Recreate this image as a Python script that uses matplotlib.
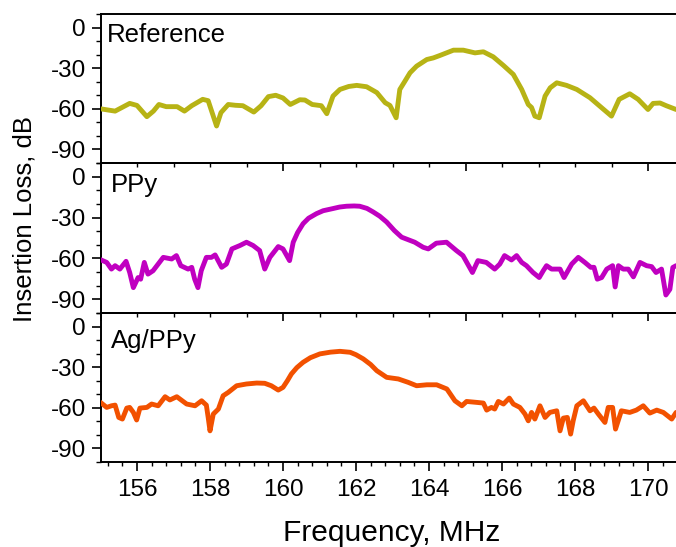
import numpy as np
import matplotlib.pyplot as plt
from matplotlib.ticker import MultipleLocator

plt.rcParams["font.family"] = ["Liberation Sans", "DejaVu Sans"]
plt.rcParams["axes.unicode_minus"] = False

# --- measured traces (frequency in MHz, insertion loss in dB) ---
ref_freq = [155.0, 155.4, 155.8, 156.0, 156.27, 156.45, 156.6, 156.8, 157.1, 157.3,
            157.5, 157.8, 157.95, 158.18, 158.3, 158.5, 158.7, 158.9, 159.2, 159.4,
            159.6, 159.8, 160.0, 160.2, 160.46, 160.6, 160.8, 161.05, 161.2, 161.37,
            161.56, 161.8, 162.02, 162.29, 162.57, 162.8, 162.93, 163.1, 163.2, 163.34,
            163.48, 163.66, 163.94, 164.12, 164.3, 164.48, 164.67, 164.94, 165.26, 165.49,
            165.76, 166.04, 166.31, 166.54, 166.72, 166.81, 166.9, 167.02, 167.18, 167.32,
            167.5, 167.77, 168.05, 168.41, 168.73, 169.0, 169.21, 169.5, 169.73, 170.0,
            170.14, 170.33, 170.5, 170.77]
ref_loss = [-60.0, -61.7, -56.0, -57.5, -65.8, -61.7, -56.8, -58.4, -58.4, -61.7,
            -57.7, -53.0, -54.0, -72.7, -62.8, -56.8, -57.4, -57.7, -62.4, -57.7,
            -51.0, -50.0, -52.0, -56.8, -53.3, -53.5, -56.8, -57.7, -63.6, -50.6,
            -45.7, -43.5, -42.7, -43.7, -48.0, -55.5, -57.5, -66.6, -45.7, -39.6,
            -33.4, -28.5, -23.6, -22.4, -20.6, -18.7, -16.7, -16.7, -18.7, -17.9,
            -21.6, -28.0, -34.6, -45.7, -56.8, -59.0, -65.4, -66.6, -50.6, -44.5,
            -40.8, -42.7, -45.7, -51.8, -59.2, -65.4, -53.0, -48.9, -53.0, -60.5,
            -56.0, -55.7, -57.7, -60.5]

ppy_freq = [155.0, 155.17, 155.3, 155.4, 155.53, 155.7, 155.8, 155.9, 156.03, 156.1,
            156.2, 156.3, 156.44, 156.58, 156.72, 156.95, 157.08, 157.2, 157.4, 157.5,
            157.58, 157.67, 157.76, 157.9, 158.04, 158.14, 158.32, 158.45, 158.6, 158.82,
            159.0, 159.18, 159.36, 159.5, 159.64, 159.87, 160.0, 160.18, 160.28, 160.4,
            160.55, 160.7, 160.92, 161.1, 161.37, 161.55, 161.74, 161.95, 162.1, 162.3,
            162.47, 162.65, 162.84, 163.05, 163.25, 163.61, 163.84, 163.98, 164.2, 164.48,
            164.75, 164.93, 165.19, 165.34, 165.57, 165.8, 165.94, 166.07, 166.26, 166.4,
            166.54, 166.67, 166.85, 167.02, 167.13, 167.22, 167.36, 167.59, 167.7, 167.91,
            168.09, 168.27, 168.43, 168.52, 168.61, 168.73, 168.87, 169.03, 169.1, 169.19,
            169.32, 169.46, 169.6, 169.78, 169.96, 170.1, 170.22, 170.37, 170.41, 170.49,
            170.6, 170.68, 170.77]
ppy_loss = [-60.9, -62.9, -67.8, -65.3, -67.8, -62.1, -70.3, -81.4, -74.0, -75.2,
            -62.9, -71.5, -69.0, -64.1, -59.2, -60.4, -57.9, -65.3, -67.8, -66.5,
            -75.2, -81.4, -69.0, -59.2, -59.2, -57.4, -66.5, -64.1, -53.0, -50.5,
            -48.1, -50.5, -54.2, -67.8, -59.2, -51.3, -53.0, -61.6, -48.1, -41.0,
            -34.5, -30.5, -27.1, -25.0, -23.4, -22.3, -21.7, -21.5, -21.7, -23.3,
            -25.9, -29.0, -33.3, -39.5, -44.4, -48.1, -51.8, -53.0, -48.8, -48.1,
            -54.2, -57.9, -70.3, -61.6, -62.9, -67.8, -64.1, -57.9, -61.1, -57.9,
            -62.9, -65.3, -70.3, -74.0, -69.0, -65.3, -67.8, -67.8, -74.0, -64.1,
            -59.2, -62.9, -66.5, -66.5, -75.2, -74.0, -67.8, -65.3, -80.9, -65.3,
            -67.8, -67.8, -73.5, -62.9, -65.3, -66.0, -70.3, -67.8, -74.0, -86.8,
            -82.6, -66.6, -65.3]

agppy_freq = [155.0, 155.17, 155.3, 155.4, 155.5, 155.6, 155.72, 155.8, 155.9, 155.99,
              156.08, 156.27, 156.4, 156.58, 156.77, 156.9, 157.09, 157.36, 157.59, 157.77,
              157.9, 157.95, 158.0, 158.09, 158.23, 158.36, 158.5, 158.73, 159.0, 159.28,
              159.5, 159.68, 159.87, 160.0, 160.12, 160.23, 160.38, 160.55, 160.75, 161.01,
              161.3, 161.56, 161.84, 162.0, 162.2, 162.4, 162.57, 162.84, 163.16, 163.43,
              163.66, 163.94, 164.21, 164.49, 164.71, 164.9, 165.03, 165.31, 165.49, 165.58,
              165.71, 165.8, 165.9, 166.04, 166.2, 166.31, 166.49, 166.63, 166.72, 166.81,
              166.9, 167.04, 167.18, 167.31, 167.5, 167.59, 167.68, 167.79, 167.88, 167.95,
              168.05, 168.23, 168.41, 168.52, 168.64, 168.82, 168.91, 169.03, 169.11, 169.27,
              169.5, 169.68, 169.87, 170.05, 170.24, 170.42, 170.65, 170.77]
agppy_loss = [-56.0, -59.7, -58.5, -58.0, -67.1, -68.3, -60.2, -59.7, -63.4, -69.0,
              -60.2, -59.7, -57.2, -58.5, -51.8, -54.2, -51.8, -57.2, -58.5, -54.8,
              -58.0, -67.1, -77.0, -64.6, -60.9, -51.1, -48.6, -43.7, -42.4, -41.7,
              -41.9, -43.7, -46.9, -44.9, -40.0, -35.0, -30.3, -26.4, -23.0, -20.2,
              -18.9, -18.3, -19.0, -20.8, -23.9, -28.0, -32.6, -37.5, -38.7, -41.2,
              -43.7, -43.0, -43.0, -46.1, -54.8, -58.5, -55.3, -56.0, -56.5, -61.7,
              -59.7, -60.9, -55.3, -57.2, -52.8, -57.2, -59.7, -64.6, -69.6, -63.4,
              -68.3, -58.5, -67.1, -63.4, -62.2, -77.0, -67.6, -67.1, -79.4, -69.6,
              -58.5, -54.8, -62.2, -60.2, -64.6, -70.8, -59.7, -59.7, -75.7, -62.2,
              -63.4, -61.7, -58.5, -63.9, -61.7, -63.4, -68.3, -63.4]

panels = [
    ("Reference", ref_freq, ref_loss, "#B7B315", 0.814),
    ("PPy", ppy_freq, ppy_loss, "#C000C0", 0.807),
    ("Ag/PPy", agppy_freq, agppy_loss, "#F25100", 0.767),
]

fig = plt.figure(figsize=(6.76, 5.47), dpi=100)

# stacked panels, pixel boxes converted to figure fractions
W, H = 676.0, 547.0
left, right = 100.5, 684.5
tops = [14, 163, 313]
bottoms = [163, 313, 462]

for i, (name, f, loss, color, ty) in enumerate(panels):
    ax = fig.add_axes([left / W, 1 - bottoms[i] / H,
                       (right - left) / W, (bottoms[i] - tops[i]) / H])
    ax.plot(f, loss, color=color, lw=3.5, solid_joinstyle="round",
            solid_capstyle="round", zorder=3)
    ax.set_xlim(155, 171)
    ax.set_ylim(-100, 10)
    ax.set_yticks([0, -30, -60, -90])
    ax.yaxis.set_minor_locator(MultipleLocator(10))
    ax.tick_params(axis="y", which="major", direction="out", length=6.5,
                   width=1.2, labelsize=17.5, pad=4)
    ax.tick_params(axis="y", which="minor", direction="out", length=3.5, width=1.0)
    ax.spines["right"].set_visible(False)
    for s in ("left", "top", "bottom"):
        ax.spines[s].set_linewidth(1.4)

    if i == 2:
        # frequency axis at the bottom
        ax.xaxis.set_major_locator(MultipleLocator(2))
        ax.xaxis.set_minor_locator(MultipleLocator(0.4))
        ax.tick_params(axis="x", which="major", direction="out", length=6.5,
                       width=1.2, labelsize=17.5, pad=6, top=False)
        ax.tick_params(axis="x", which="minor", direction="out", length=3,
                       width=1.0, top=False)
    else:
        ax.tick_params(axis="x", which="both", bottom=False, labelbottom=False)

    if i > 0:
        # separate top scale on the lower panels (every 1 MHz, long ticks every 5)
        sec = ax.secondary_xaxis("top")
        sec.xaxis.set_major_locator(MultipleLocator(5))
        sec.xaxis.set_minor_locator(MultipleLocator(1))
        sec.tick_params(axis="x", which="major", direction="in", length=6,
                        width=1.2, labeltop=False)
        sec.tick_params(axis="x", which="minor", direction="in", length=3,
                        width=1.0)
        sec.spines["top"].set_linewidth(1.4)

    ax.text(0.011 + 0.007 * (i > 0), ty, name, transform=ax.transAxes,
            fontsize=18.5, va="baseline", ha="left")

fig.text(25 / W, 1 - 219 / H, "Insertion Loss, dB", rotation=90,
         fontsize=18.5, ha="center", va="center")
fig.text(392 / W, 1 - 541 / H, "Frequency, MHz", fontsize=21.5,
         ha="center", va="baseline")

fig.savefig("out.png", dpi=100)
